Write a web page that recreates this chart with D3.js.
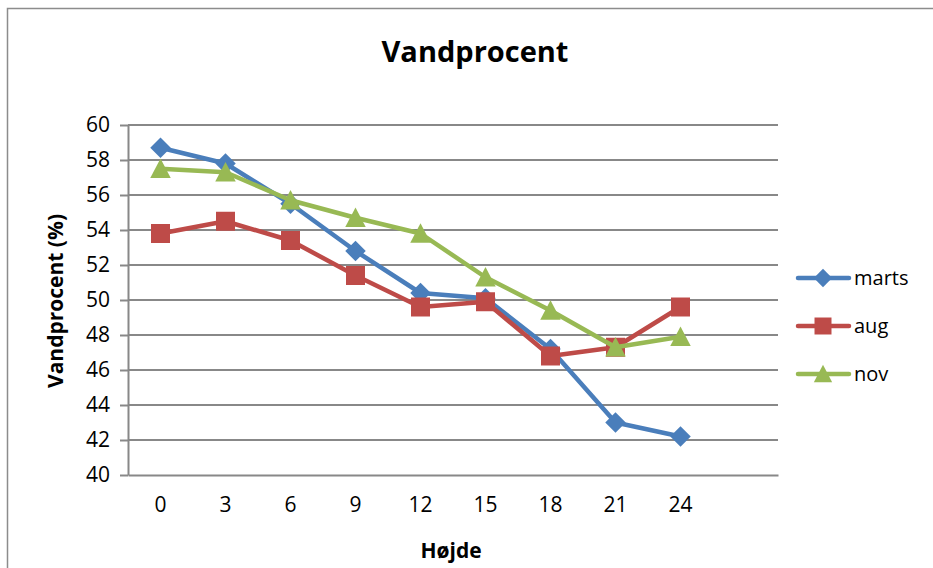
<body>
  <script src="https://d3js.org/d3.v7.min.js"></script>
  <style>
    body { margin: 0; background: #fff; }
    text { font-family: "Open Sans", Lato, sans-serif; fill: #000; }
    .grid line { stroke: #888; stroke-width: 2; }
    .axis path, .axis line { stroke: #888; stroke-width: 2; }
  </style>
  <script>
    // data
    const heights = ["0", "3", "6", "9", "12", "15", "18", "21", "24", ""];
    const marts = [58.7, 57.8, 55.5, 52.8, 50.4, 50.1, 47.2, 43.0, 42.2];
    const aug   = [53.8, 54.5, 53.4, 51.4, 49.6, 49.9, 46.8, 47.3, 49.6];
    const nov   = [57.5, 57.3, 55.7, 54.7, 53.8, 51.3, 49.4, 47.3, 47.9];
    const yTicks = [40, 42, 44, 46, 48, 50, 52, 54, 56, 58, 60];

    // Excel-style markers
    const diamond = {draw(ctx, size) {
      const r = Math.sqrt(size) / 2;
      ctx.moveTo(0, -r); ctx.lineTo(r, 0); ctx.lineTo(0, r); ctx.lineTo(-r, 0); ctx.closePath();
    }};
    const square = {draw(ctx, size) {
      const r = Math.sqrt(size) / 2;
      ctx.rect(-r, -r, 2 * r, 2 * r);
    }};
    const triangle = {draw(ctx, size) {
      const r = Math.sqrt(size) / 2;
      ctx.moveTo(0, -r); ctx.lineTo(r, r * 0.9); ctx.lineTo(-r, r * 0.9); ctx.closePath();
    }};

    const series = [
      {name: "marts", values: marts, color: "#4a7ebb", marker: diamond, size: 420},
      {name: "aug",   values: aug,   color: "#be4b48", marker: square, size: 361},
      {name: "nov",   values: nov,   color: "#98b954", marker: triangle, size: 420}
    ];

    const W = 933, H = 568;
    const plot = {left: 128, right: 778, top: 125, bottom: 475};

    const svg = d3.select("body").append("svg")
      .attr("width", W)
      .attr("height", H);

    // chart border
    svg.append("rect")
      .attr("x", 7.5).attr("y", 8.5)
      .attr("width", W + 10).attr("height", H + 10)
      .attr("fill", "none")
      .attr("stroke", "#8c8c8c")
      .attr("stroke-width", 1.5);

    const x = d3.scaleBand()
      .domain(heights.map((d, i) => i))
      .range([plot.left, plot.right]);

    const y = d3.scaleLinear()
      .domain([40, 60])
      .range([plot.bottom, plot.top]);

    // gridlines
    svg.append("g")
      .attr("class", "grid")
      .selectAll("line")
      .data(yTicks.slice(1))
      .enter().append("line")
      .attr("x1", plot.left).attr("x2", plot.right)
      .attr("y1", d => y(d)).attr("y2", d => y(d));

    // y axis
    const yAxis = svg.append("g")
      .attr("class", "axis")
      .attr("transform", "translate(" + plot.left + ",0)")
      .call(d3.axisLeft(y).tickValues(yTicks).tickSize(8).tickSizeOuter(0).tickPadding(10));
    yAxis.selectAll("text").style("font-size", "21px");

    // x axis
    const xAxis = svg.append("g")
      .attr("class", "axis")
      .attr("transform", "translate(0," + plot.bottom + ")")
      .call(d3.axisBottom(x).tickFormat(i => heights[i]).tickSize(0).tickSizeOuter(0).tickPadding(22));
    xAxis.selectAll("text").style("font-size", "21px");

    // titles
    svg.append("text")
      .attr("x", 475).attr("y", 62)
      .attr("text-anchor", "middle")
      .style("font-size", "29px").style("font-weight", "bold")
      .text("Vandprocent");

    svg.append("text")
      .attr("x", 451).attr("y", 558)
      .attr("text-anchor", "middle")
      .style("font-size", "21px").style("font-weight", "bold")
      .text("Højde");

    svg.append("text")
      .attr("transform", "translate(63,301) rotate(-90)")
      .attr("text-anchor", "middle")
      .style("font-size", "21px").style("font-weight", "bold")
      .text("Vandprocent (%)");

    const cx = i => x(i) + x.bandwidth() / 2;
    const line = d3.line().x((d, i) => cx(i)).y(d => y(d));

    series.forEach(s => {
      svg.append("path")
        .datum(s.values)
        .attr("d", line)
        .attr("fill", "none")
        .attr("stroke", s.color)
        .attr("stroke-width", 4.5)
        .attr("stroke-linejoin", "round");

      svg.selectAll(null)
        .data(s.values)
        .enter().append("path")
        .attr("d", d3.symbol().type(s.marker).size(s.size))
        .attr("transform", (d, i) => "translate(" + cx(i) + "," + y(d) + ")")
        .attr("fill", s.color);
    });

    // legend
    const legend = svg.append("g");
    series.forEach((s, i) => {
      const ly = 278 + i * 48;
      legend.append("line")
        .attr("x1", 798).attr("x2", 849)
        .attr("y1", ly).attr("y2", ly)
        .attr("stroke", s.color).attr("stroke-width", 4.5)
        .attr("stroke-linecap", "round");
      legend.append("path")
        .attr("d", d3.symbol().type(s.marker).size(s.size * 0.8))
        .attr("transform", "translate(823," + ly + ")")
        .attr("fill", s.color);
      legend.append("text")
        .attr("x", 854).attr("y", ly + 7)
        .style("font-size", "20px")
        .text(s.name);
    });
  </script>
</body>
